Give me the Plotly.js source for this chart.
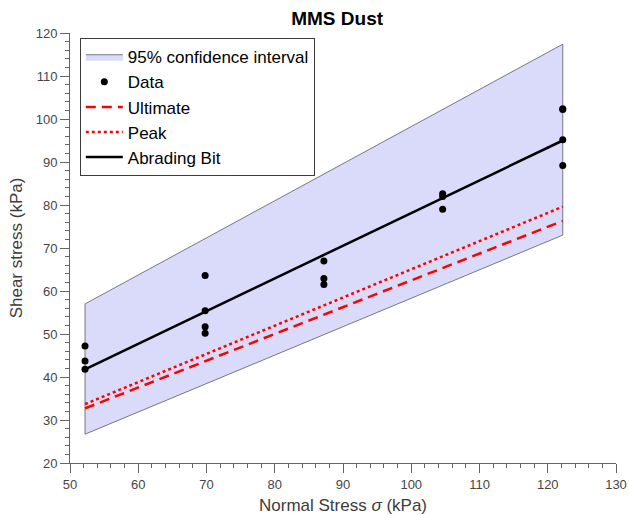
<!DOCTYPE html>
<html>
<head>
<meta charset="utf-8">
<script src="https://cdn.plot.ly/plotly-3.0.1.min.js"></script>
<style>html,body{margin:0;padding:0;background:#fff;}#chart{width:629px;height:515px;}</style>
</head>
<body>
<div id="chart"></div>
<script>
// Measured data points (normal stress, shear stress)
const dataX = [52.2, 52.2, 52.2, 69.8, 69.8, 69.8, 69.8, 87.2, 87.2, 87.2, 104.6, 104.6, 104.6, 122.2, 122.2, 122.2, 122.2];
const dataY = [47.2, 43.7, 41.8, 63.6, 55.4, 51.7, 50.2, 67.0, 62.9, 61.5, 82.6, 82.0, 79.0, 102.4, 102.2, 95.2, 89.2];

// Fit line end points
const fitX = [52.2, 122.2];
const abradingY = [41.8, 95.0];
const peakY = [33.7, 79.6];
const ultimateY = [32.7, 76.3];

// 95% confidence band polygon
const ciX = [52.2, 122.2, 122.2, 52.2, 52.2];
const ciY = [57.0, 117.4, 73.0, 26.7, 57.0];

const xTicks = [50, 60, 70, 80, 90, 100, 110, 120, 130];
const yTicks = [20, 30, 40, 50, 60, 70, 80, 90, 100, 110, 120];

const FONT = '"Liberation Sans", Arial, Helvetica, sans-serif';

const traces = [
  {x: ciX, y: ciY, type: 'scatter', mode: 'lines', fill: 'toself',
   fillcolor: 'rgb(218,218,250)', line: {color: 'rgb(90,90,100)', width: 0.8},
   name: '95% confidence interval', legendrank: 1, hoverinfo: 'skip'},
  {x: fitX, y: ultimateY, type: 'scatter', mode: 'lines',
   line: {color: 'rgb(255,0,0)', width: 2.5, dash: '10px,6px'},
   name: 'Ultimate', legendrank: 3},
  {x: fitX, y: peakY, type: 'scatter', mode: 'lines',
   line: {color: 'rgb(255,0,0)', width: 2.5, dash: 'dot'},
   name: 'Peak', legendrank: 4},
  {x: fitX, y: abradingY, type: 'scatter', mode: 'lines',
   line: {color: 'black', width: 2.5},
   name: 'Abrading Bit', legendrank: 5},
  {x: dataX, y: dataY, type: 'scatter', mode: 'markers',
   marker: {color: 'black', size: 7},
   name: 'Data', legendrank: 2}
];

const axisCommon = {
  showgrid: false, zeroline: false, showline: true, mirror: false,
  linecolor: 'rgb(100,100,100)', linewidth: 1,
  ticks: 'outside', ticklen: 9, tickwidth: 1, tickcolor: 'rgb(100,100,100)',
  tickfont: {family: FONT, size: 13, color: 'rgb(70,70,70)'},
  minor: {dtick: 2, ticks: 'outside', ticklen: 4, tickwidth: 1, tickcolor: 'rgb(100,100,100)', showgrid: false}
};

const layout = {
  width: 629, height: 515,
  paper_bgcolor: 'white', plot_bgcolor: 'white',
  margin: {l: 70, r: 13, t: 33, b: 52},
  font: {family: FONT},
  title: {text: '<b>MMS Dust</b>', x: 0.536, xanchor: 'center', y: 0.965, yanchor: 'middle',
          font: {family: FONT, size: 19, color: 'black'}},
  xaxis: Object.assign({}, axisCommon, {
    range: [50, 130], tickvals: xTicks, ticktext: xTicks.map(String),
    title: {text: 'Normal Stress <i>σ</i> (kPa)', standoff: 8, font: {family: FONT, size: 17, color: 'rgb(60,60,60)'}}
  }),
  yaxis: Object.assign({}, axisCommon, {
    range: [20, 120], tickvals: yTicks, ticktext: yTicks.map(String),
    title: {text: 'Shear stress (kPa)', standoff: 8, font: {family: FONT, size: 17, color: 'rgb(60,60,60)'}}
  }),
  showlegend: true,
  legend: {x: 0.018, y: 0.988, xanchor: 'left', yanchor: 'top',
           bgcolor: 'white', bordercolor: 'rgb(60,60,60)', borderwidth: 1,
           font: {family: FONT, size: 17, color: 'black'},
           tracegroupgap: 0, itemwidth: 37}
};

Plotly.newPlot('chart', traces, layout, {displayModeBar: false, staticPlot: true});
</script>
</body>
</html>
